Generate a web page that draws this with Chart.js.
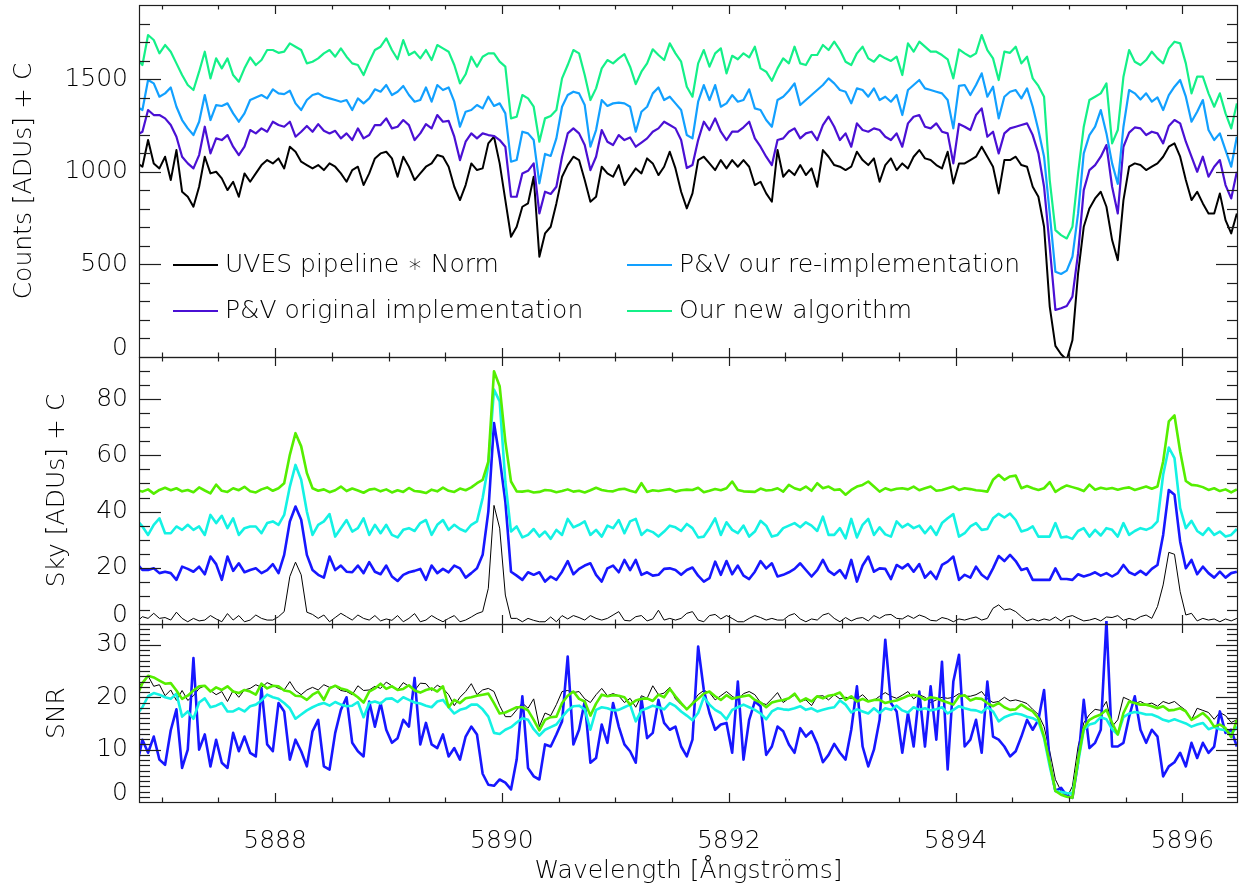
<!DOCTYPE html>
<html><head><meta charset="utf-8">
<script src="https://cdn.jsdelivr.net/npm/chart.js@4.4.1/dist/chart.umd.min.js"></script>
<style>html,body{margin:0;padding:0;background:#fff;overflow:hidden}canvas{display:block}</style>
</head><body>
<canvas id="c" width="1242" height="890"></canvas>
<script>
// wavelength sampling of every series (Angstrom)
const waveStart = 5886.78, waveStep = 0.05;

// ---- Panel 1: Counts [ADUs] + C ----
const countsUVES = [
1050,1027,1171,1045,1018,1081,955,1117,892,865,
811,919,1081,991,1000,964,901,946,865,991,
946,991,1036,1063,1045,1072,1018,1135,1108,1054,
1036,1018,1036,1009,1045,1027,991,946,1009,1027,
928,991,1072,1099,1108,1072,973,1081,1027,955,
991,1027,1045,1090,1081,1027,919,847,928,1045,
1009,1018,1153,1189,1045,847,649,703,811,829,
973,541,667,703,829,973,1036,1081,1063,955,
838,865,1027,991,973,1036,928,973,1018,991,
1072,1045,982,1027,1108,1018,892,802,883,1063,
1081,1045,1009,1063,1018,1063,1027,1063,1027,928,
946,883,838,1117,973,1009,982,1036,982,1018,
919,1117,1081,1036,1027,1009,1027,1108,1063,1036,
1072,946,1036,1072,1009,1045,1018,1081,1117,1072,
1063,1036,1018,1108,937,1045,1045,1063,1081,1135,
1081,1027,883,1063,1063,1081,1036,1027,919,865,
703,272,60,15,-15,90,451,703,802,856,
892,811,631,523,847,1027,1045,1036,1009,1027,
1045,1081,1135,1153,1081,955,847,892,829,775,
775,883,739,667,775];
const countsPVorig = [
1198,1216,1333,1306,1306,1288,1252,1189,1081,1045,
1018,1090,1243,1099,1180,1171,1198,1135,1090,1135,
1225,1207,1234,1216,1270,1252,1243,1270,1189,1216,
1247,1216,1257,1221,1207,1221,1180,1207,1171,1234,
1180,1198,1252,1252,1288,1234,1243,1279,1252,1171,
1207,1257,1234,1306,1270,1275,1189,1063,1162,1207,
1180,1207,1198,1193,1171,1135,865,865,991,1005,
1045,775,892,880,919,1081,1207,1234,1207,1144,
1009,1081,1225,1162,1144,1198,1171,1185,1135,1157,
1180,1216,1234,1270,1252,1234,1171,1020,1036,1171,
1270,1225,1288,1216,1171,1216,1216,1240,1270,1180,
1135,1081,1036,1171,1180,1216,1234,1180,1207,1216,
1171,1252,1297,1243,1171,1207,1135,1261,1225,1216,
1234,1225,1189,1171,1207,1135,1261,1297,1306,1243,
1234,1261,1216,1207,1045,1258,1243,1225,1306,1342,
1189,1216,1099,1207,1234,1243,1252,1261,1198,1099,
919,595,254,263,275,326,559,901,1009,1036,
1081,1144,919,775,1135,1211,1239,1234,1198,1216,
1207,1153,1247,1279,1261,1162,1081,1000,1081,973,
1027,1063,928,856,1000];
const countsPVre = [
1351,1333,1495,1477,1405,1423,1455,1351,1279,1234,
1198,1270,1414,1279,1360,1355,1369,1315,1270,1315,
1387,1401,1414,1396,1445,1423,1419,1437,1369,1333,
1387,1414,1423,1405,1396,1387,1378,1387,1333,1396,
1369,1396,1445,1432,1468,1414,1432,1463,1414,1378,
1387,1455,1378,1468,1441,1455,1378,1243,1324,1333,
1360,1342,1405,1355,1369,1315,1054,1063,1216,1207,
1171,937,1096,1085,1180,1351,1414,1432,1423,1360,
1135,1225,1387,1355,1369,1373,1369,1351,1216,1324,
1351,1423,1455,1387,1405,1369,1333,1198,1180,1378,
1468,1387,1468,1351,1369,1414,1378,1387,1445,1342,
1333,1279,1243,1387,1405,1437,1477,1360,1387,1414,
1441,1468,1504,1477,1441,1432,1369,1450,1441,1405,
1450,1387,1405,1378,1414,1306,1441,1468,1495,1450,
1441,1432,1423,1387,1234,1463,1468,1414,1468,1531,
1405,1459,1288,1405,1432,1441,1396,1450,1351,1225,
1081,775,460,448,466,541,775,1099,1198,1243,
1333,1207,1045,934,1243,1441,1423,1390,1423,1378,
1401,1333,1414,1459,1495,1405,1270,1324,1387,1225,
1171,1207,1117,1027,1189];
const countsNew = [
1612,1576,1738,1711,1639,1684,1648,1585,1522,1468,
1441,1540,1648,1504,1612,1558,1612,1522,1486,1558,
1617,1576,1603,1657,1657,1642,1648,1693,1675,1657,
1585,1594,1612,1639,1657,1621,1666,1621,1585,1576,
1522,1594,1657,1675,1720,1657,1607,1711,1630,1648,
1612,1657,1603,1684,1666,1648,1576,1477,1526,1621,
1567,1621,1639,1639,1594,1567,1288,1297,1414,1396,
1351,1162,1288,1301,1333,1504,1576,1657,1639,1522,
1387,1450,1558,1603,1585,1612,1635,1567,1473,1540,
1585,1661,1630,1603,1693,1639,1594,1459,1405,1585,
1657,1567,1639,1666,1531,1626,1607,1639,1617,1675,
1558,1540,1491,1558,1612,1585,1675,1585,1576,1630,
1630,1684,1657,1702,1657,1594,1576,1639,1675,1612,
1594,1630,1612,1598,1621,1522,1693,1648,1702,1675,
1648,1648,1630,1607,1504,1660,1639,1621,1639,1738,
1657,1612,1495,1648,1642,1675,1585,1621,1504,1463,
1405,955,685,658,640,703,991,1243,1387,1405,
1423,1477,1153,1225,1513,1657,1594,1576,1603,1648,
1612,1585,1666,1702,1693,1585,1423,1513,1513,1423,
1351,1423,1315,1234,1369];

// ---- Panel 2: Sky [ADUs] + C ----
const skyUVES = [
0.8,2.6,2.0,3.8,2.0,2.3,1.4,4.2,2.0,0.8,
2.0,1.1,1.4,3.0,1.8,0.8,3.7,1.4,3.0,0.8,
1.4,3.2,2.0,1.4,1.4,2.6,4.4,16.9,22.0,17.5,
4.2,3.4,2.0,3.2,0.8,2.3,3.8,2.6,1.4,3.2,
2.0,1.4,3.0,1.1,1.8,1.3,3.0,0.8,2.0,3.7,
0.8,1.4,3.0,1.8,0.8,2.0,3.0,0.8,1.4,2.5,
3.7,4.4,12.7,42.2,34.1,10.3,2.0,2.0,0.8,2.0,
1.3,0.8,0.8,2.5,0.8,3.0,1.8,3.0,2.3,1.4,
3.0,2.0,1.4,2.0,3.2,4.4,1.3,1.1,2.6,3.0,
1.1,1.8,4.9,1.4,2.0,1.4,2.0,3.8,4.4,1.4,
0.8,3.0,3.4,1.8,3.0,2.0,0.8,0.8,2.0,3.0,
2.3,1.4,2.0,1.4,1.4,3.0,3.7,1.8,0.8,1.8,
1.4,3.2,3.8,2.0,0.8,2.3,1.1,2.0,2.3,1.1,
3.0,2.0,3.2,3.4,2.0,1.8,3.0,2.0,3.2,2.5,
1.3,1.1,2.3,1.8,0.8,1.8,1.4,2.0,2.5,1.4,
2.0,5.6,6.8,5.0,5.4,4.4,2.6,1.1,1.8,1.1,
1.8,1.3,2.5,1.1,2.5,3.0,2.0,1.1,1.4,2.0,
1.1,2.5,2.3,3.0,1.3,2.0,1.4,2.6,3.2,2.0,
6.2,13.9,25.5,24.8,11.5,3.2,3.8,1.1,2.0,1.4,
1.8,0.8,1.8,1.1,2.0];
const skyPVorig = [
21.6,19.2,19.2,19.8,18.1,18.6,18.1,15.7,20.4,19.6,
18.6,20.4,17.7,24.0,21.3,15.7,24.0,18.9,21.6,18.4,
19.2,19.8,18.1,19.2,21.3,18.1,24.6,36.5,41.8,37.1,
24.6,19.2,17.5,16.5,24.0,19.2,20.8,18.6,18.4,20.8,
18.1,22.0,18.6,17.7,20.8,16.9,15.3,17.5,18.4,18.9,
19.6,15.7,20.8,18.1,19.6,18.4,20.8,19.8,16.5,18.1,
19.8,24.6,40.0,71.5,59.0,43.6,18.6,17.2,15.7,18.4,
17.5,18.4,15.1,16.9,15.7,18.6,22.4,17.7,19.6,20.8,
21.6,17.5,15.1,19.8,20.8,18.4,22.8,19.2,22.8,17.5,
18.4,17.2,17.5,19.6,19.8,19.2,17.5,19.2,20.1,17.2,
15.1,16.3,22.2,17.5,22.4,17.7,20.8,17.2,16.0,18.6,
22.4,19.8,21.6,16.9,17.5,18.4,19.6,21.6,19.2,16.9,
19.2,22.8,18.9,17.5,19.2,16.3,22.8,15.1,20.8,24.0,
18.6,19.8,19.6,16.0,21.0,19.8,21.3,18.6,21.3,16.5,
18.6,16.0,21.0,22.2,24.0,15.7,17.5,16.5,20.4,17.5,
16.0,19.8,24.2,22.4,24.6,22.4,19.2,19.8,15.7,15.7,
15.7,15.7,19.8,16.0,16.0,15.7,17.7,16.9,17.5,18.4,
17.2,18.1,16.9,18.1,21.0,18.4,17.5,18.9,17.5,19.6,
21.0,31.7,47.7,46.0,29.3,19.8,22.8,17.7,20.4,18.1,
16.5,18.6,16.5,18.1,18.6];
const skyPVre = [
37.0,34.7,31.7,35.3,37.6,32.3,32.3,34.7,33.5,35.3,
33.5,34.7,31.7,38.8,35.9,38.5,34.1,37.6,31.7,34.1,
34.7,34.7,32.3,35.9,36.5,35.3,38.8,48.9,56.6,51.3,
40.0,31.7,35.3,36.5,39.1,31.1,34.1,37.0,32.9,34.1,
37.6,31.7,35.3,32.3,35.3,31.7,30.8,33.5,34.1,33.1,
35.9,37.0,31.7,35.3,37.0,33.5,35.3,33.8,32.9,35.3,
36.5,44.8,56.6,83.4,79.2,50.7,32.9,34.7,30.8,31.7,
33.8,31.1,32.9,30.3,33.5,31.7,37.4,34.4,35.3,36.5,
31.7,33.5,31.1,35.0,34.1,37.0,32.3,36.5,37.4,31.7,
33.5,32.7,31.1,32.9,35.0,34.4,33.1,35.6,34.1,30.8,
31.1,34.1,37.6,31.7,36.2,33.5,32.3,35.0,31.1,32.9,
36.7,35.0,31.1,31.7,34.1,35.0,35.9,34.4,36.2,35.0,
33.1,38.2,31.7,31.7,34.1,30.5,37.4,30.8,35.3,37.4,
31.7,34.4,31.9,31.1,36.5,34.4,35.6,34.1,35.0,32.3,
34.7,31.7,35.9,37.6,39.1,31.1,32.3,34.7,35.9,33.5,
33.8,37.6,39.2,37.9,39.3,37.0,32.9,33.5,34.7,31.1,
31.1,31.1,35.9,30.8,31.1,30.3,33.1,34.1,31.1,33.5,
31.5,34.1,33.5,31.1,35.9,31.7,33.1,34.1,33.5,34.4,
36.5,53.1,62.8,59.0,41.2,34.1,36.7,33.1,31.7,34.1,
31.7,32.9,31.1,31.7,33.8];
const skyNew = [
47.7,47.1,47.9,46.4,47.7,48.5,47.6,48.3,47.2,47.7,
46.9,48.6,47.5,46.5,49.6,47.4,47.0,48.3,47.6,48.8,
47.2,46.8,47.9,48.6,47.4,48.3,50.1,60.2,67.9,63.2,
53.7,48.3,47.4,47.9,46.9,47.6,48.9,47.3,48.2,47.5,
46.7,47.8,48.1,47.2,47.9,46.8,47.6,47.0,48.4,47.3,
47.1,46.6,47.8,47.2,48.5,47.4,47.0,48.2,47.6,48.6,
50.1,51.3,57.8,89.9,84.6,65.0,50.7,47.2,47.1,47.4,
46.8,47.0,47.7,47.5,46.9,47.3,47.9,47.1,47.4,46.8,
47.6,48.5,47.7,47.3,47.2,47.9,48.1,47.4,46.9,50.1,
47.0,47.6,47.3,47.7,48.0,47.1,47.6,47.8,47.7,48.5,
46.9,47.4,48.0,47.6,48.3,50.7,47.7,47.2,47.1,47.0,
48.2,47.5,47.7,48.3,47.1,49.5,48.3,47.7,48.9,47.4,
50.1,48.3,48.9,47.7,47.9,46.0,47.7,48.9,49.5,50.7,
48.9,47.1,48.3,47.6,48.1,48.3,47.9,48.9,47.6,48.3,
48.9,47.4,47.7,48.3,48.9,47.7,48.3,48.0,47.6,47.4,
47.1,51.3,53.1,51.3,52.5,52.8,48.3,49.1,48.3,47.7,
48.3,50.5,47.0,48.3,49.3,48.7,48.1,47.3,49.6,47.8,
48.5,48.0,48.4,47.8,48.3,48.6,47.7,48.3,48.9,48.1,
48.9,57.8,72.1,74.2,61.4,50.9,49.5,49.3,48.7,47.7,
48.3,47.3,47.9,46.8,47.9];

// ---- Panel 3: SNR ----
const snrUVES = [
21.4,23.0,24.1,22.1,22.4,20.3,21.4,19.4,21.3,19.4,
20.3,21.7,22.2,21.3,20.5,21.1,19.2,21.3,20.0,21.4,
21.7,22.4,21.9,22.8,22.3,21.7,21.4,23.0,21.3,20.5,
21.4,21.9,21.4,22.4,21.9,22.1,21.3,21.1,20.5,22.2,
21.3,21.4,22.1,21.7,22.9,22.2,21.4,22.8,22.1,21.3,
22.7,22.6,21.3,22.3,21.7,20.5,18.4,20.0,21.1,22.6,
20.5,21.4,21.7,21.1,18.4,16.3,16.3,17.6,18.9,17.9,
19.7,14.4,17.0,16.5,18.6,21.1,21.3,20.9,21.1,19.7,
19.0,20.5,21.7,20.3,20.7,20.3,19.0,19.8,18.1,20.3,
19.8,22.2,20.5,20.8,21.9,19.7,18.6,17.7,19.0,20.5,
21.3,20.9,19.5,20.3,21.1,20.2,19.5,20.7,21.1,20.5,
19.0,18.6,19.7,20.9,19.0,19.8,20.4,19.2,19.5,18.4,
20.2,20.3,19.5,20.5,19.7,20.0,19.8,19.7,20.5,19.4,
19.4,20.2,20.9,20.2,19.8,20.4,21.1,19.7,20.5,20.0,
19.0,19.5,20.0,19.8,20.0,20.7,20.2,20.2,20.5,21.1,
19.7,19.0,19.2,20.0,19.3,19.5,19.2,18.8,17.7,16.7,
14.4,9.7,4.3,2.1,0.8,3.0,10.6,15.1,16.7,17.7,
17.5,19.2,14.4,15.7,20.0,19.5,18.8,19.2,18.6,18.9,
18.3,19.2,18.8,19.2,18.3,17.5,15.7,17.9,17.5,17.1,
15.8,17.1,16.5,15.2,15.7];
const snrPVorig = [
6.8,11.9,9.4,12.5,8.1,7.1,13.7,17.7,6.5,10.0,
27.5,10.0,12.9,6.8,11.9,7.5,6.5,13.2,9.7,12.5,
9.4,8.7,21.7,11.0,9.7,18.9,17.3,8.1,11.9,9.7,
6.8,13.5,15.7,6.8,6.2,13.2,17.6,20.0,11.3,9.7,
8.7,19.2,14.4,18.9,13.8,11.3,12.2,15.7,14.4,23.7,
11.0,15.1,11.0,10.3,12.9,8.7,10.3,8.1,12.5,14.4,
12.9,5.4,3.3,3.1,4.3,3.7,2.4,8.1,20.2,6.5,
4.9,4.3,11.0,10.6,12.9,15.4,27.8,11.0,13.8,19.2,
7.5,8.4,14.8,11.3,18.9,14.4,11.0,9.7,7.5,19.8,
12.2,13.2,19.5,15.1,13.8,14.4,10.6,8.7,11.9,29.7,
21.4,17.0,13.8,14.8,15.1,9.4,23.0,8.1,15.7,19.2,
18.3,9.0,10.6,14.4,13.5,11.0,9.4,14.1,12.5,13.5,
11.1,7.6,9.0,11.1,9.4,8.1,13.8,22.1,10.6,6.8,
10.0,15.7,31.0,18.9,17.3,9.4,17.0,10.6,21.1,10.6,
22.1,11.9,26.8,6.2,23.0,28.1,10.6,11.9,15.7,9.4,
23.0,12.5,11.9,10.6,8.7,9.7,12.5,15.7,13.8,15.7,
21.4,7.5,2.1,2.7,1.2,0.8,7.5,19.5,10.3,11.3,
13.8,34.6,10.6,10.6,11.3,16.3,20.2,13.8,11.3,13.8,
12.5,4.9,6.8,7.6,9.4,6.8,11.3,8.4,11.3,9.4,
10.6,17.3,13.2,13.8,10.6];
const snrPVre = [
16.7,18.1,20.2,20.8,20.5,20.0,19.7,20.7,16.3,17.3,
15.9,19.0,19.8,18.1,18.4,18.9,17.3,17.3,17.9,17.3,
18.3,18.6,19.4,20.5,20.0,19.7,18.9,17.9,15.9,16.7,
17.5,18.1,18.6,18.9,18.4,19.1,18.6,18.3,18.4,19.1,
16.2,18.9,19.2,18.8,19.7,19.8,19.1,20.0,19.5,19.0,
18.8,18.4,18.1,19.2,19.5,18.1,16.9,17.6,17.9,18.6,
18.6,17.7,16.3,13.2,13.0,13.8,14.3,15.2,16.0,15.7,
13.9,12.7,13.8,14.3,14.8,16.2,17.5,18.3,18.4,17.7,
13.8,17.6,18.1,17.9,17.5,17.6,18.1,18.6,15.4,17.5,
17.9,18.4,18.1,17.7,18.9,18.3,17.3,16.5,15.6,17.0,
20.0,18.6,17.6,17.0,15.8,17.6,18.1,18.6,18.1,17.6,
16.9,15.8,17.3,17.9,17.7,17.6,17.9,18.3,17.6,17.9,
17.3,17.6,17.9,18.1,19.4,18.6,17.1,17.7,17.3,16.9,
17.9,17.0,17.9,17.6,18.4,17.5,17.1,18.1,17.6,17.9,
17.5,17.7,18.1,16.9,17.6,18.3,17.9,17.6,17.5,17.1,
18.1,17.3,15.4,16.2,16.6,16.9,16.7,16.3,16.0,15.4,
12.2,6.8,2.1,1.9,1.7,1.6,7.5,13.8,14.8,15.1,
16.2,15.8,13.9,12.9,16.2,16.9,17.2,17.0,16.7,16.7,
16.3,15.7,15.4,15.8,15.4,15.0,14.4,14.8,15.1,13.9,
14.3,13.9,13.7,12.9,14.4];
const snrNew = [
20.2,22.7,24.1,23.8,23.2,22.6,22.7,21.3,19.7,20.3,
21.3,22.1,22.2,21.1,21.9,21.4,22.1,21.1,20.8,21.4,
21.1,20.5,22.6,21.7,22.2,22.1,21.3,21.1,20.3,20.2,
19.5,20.5,21.1,19.5,21.7,22.2,21.7,21.4,20.8,20.0,
19.0,21.1,21.7,22.6,21.6,22.1,21.4,21.6,22.3,21.3,
20.9,21.4,21.7,21.1,22.1,18.1,19.5,18.9,19.8,20.0,
20.3,20.5,20.7,18.9,16.9,17.1,17.6,18.1,18.1,17.5,
15.7,13.7,15.7,16.2,16.3,18.9,20.3,21.1,19.7,19.2,
16.5,18.8,20.5,20.2,20.4,20.3,20.0,18.6,19.4,19.7,
19.8,19.3,20.5,20.0,21.6,20.2,18.9,17.7,18.8,19.7,
20.7,21.1,20.2,19.5,20.4,19.7,20.0,20.2,20.4,19.5,
19.0,18.1,19.0,19.3,19.5,19.8,20.7,19.2,19.8,19.2,
20.2,19.8,20.3,20.5,20.9,19.5,20.2,19.2,19.7,19.2,
19.5,19.5,18.9,19.2,19.4,19.8,20.3,20.5,20.2,19.5,
20.0,19.8,19.4,19.0,18.6,20.2,20.4,19.4,19.8,19.7,
18.9,18.3,18.9,18.1,17.6,17.7,18.6,17.9,17.3,16.0,
12.5,7.5,2.1,1.4,1.0,0.8,8.1,14.1,15.7,16.3,
16.7,17.6,15.1,12.9,17.0,19.2,18.9,18.6,18.6,18.3,
17.9,18.3,17.5,17.6,17.9,17.3,15.7,16.3,17.0,16.0,
14.4,14.8,14.1,12.4,15.7];

// ---- axis ticks ----
const waveTicks = [5888, 5890, 5892, 5894, 5896];
const countsTicks = [0, 500, 1000, 1500];
const skyTicks = [0, 20, 40, 60, 80];
const snrTicks = [0, 10, 20, 30];

const legendNames = ['UVES pipeline \u2217 Norm', 'P&V original implementation', 'P&V our re-implementation', 'Our new algorithm'];

const FONT = '200 25px "DejaVu Sans", "Liberation Sans", sans-serif';
const C = {black:'#000000', purple:'#4a10d4', lblue:'#12a0ff', sgreen:'#14f088',
           blue:'#1717ff', cyan:'#14f2e4', lime:'#55ee00'};

function pts(arr) { return arr.map((v, i) => ({x: +(waveStart + waveStep * i).toFixed(3), y: v})); }

// clip is relative to each dataset's own panel (its y-scale box)
const clip1 = {left: 0, right: 0, top: 0, bottom: 0};
const clip2 = {left: 0, right: 0, top: 0, bottom: 0};
const clip3 = {left: 0, right: 0, top: 3, bottom: 0};

function ds(label, data, axis, color, width, order, clip) {
  return {label, data: pts(data), yAxisID: axis, borderColor: color, backgroundColor: color,
          borderWidth: width, pointRadius: 0, fill: false, tension: 0, order, clip};
}

const datasets = [
  ds(legendNames[0], countsUVES, 'yCounts', C.black, 2, 4, clip1),
  ds(legendNames[1], countsPVorig, 'yCounts', C.purple, 2.2, 3, clip1),
  ds(legendNames[2], countsPVre, 'yCounts', C.lblue, 2.2, 2, clip1),
  ds(legendNames[3], countsNew, 'yCounts', C.sgreen, 2.2, 1, clip1),
  ds('Sky: UVES pipeline', skyUVES, 'ySky', C.black, 1, 4, clip2),
  ds('Sky: P&V original', skyPVorig, 'ySky', C.blue, 2.6, 3, clip2),
  ds('Sky: P&V re-implementation', skyPVre, 'ySky', C.cyan, 2.6, 2, clip2),
  ds('Sky: new algorithm', skyNew, 'ySky', C.lime, 2.6, 1, clip2),
  ds('SNR: UVES pipeline', snrUVES, 'ySnr', C.black, 1, 4, clip3),
  ds('SNR: P&V original', snrPVorig, 'ySnr', C.blue, 2.6, 3, clip3),
  ds('SNR: P&V re-implementation', snrPVre, 'ySnr', C.cyan, 2.6, 2, clip3),
  ds('SNR: new algorithm', snrNew, 'ySnr', C.lime, 2.6, 1, clip3)
];

function yScale(min, max, ticks, weight, stackWeight) {
  return {
    type: 'linear', position: 'left', stack: 'panels', stackWeight, weight,
    min, max, offset: false,
    grid: {display: false, drawTicks: false}, border: {display: false},
    ticks: {display: false},
    afterBuildTicks: s => { s.ticks = ticks.map(v => ({value: v})); },
    afterFit: s => { s.width = 0; }
  };
}

const idlFrame = {
  id: 'idlFrame',
  afterDraw(chart) {
    const ctx = chart.ctx, xs = chart.scales.x;
    const L = chart.chartArea.left, R = chart.chartArea.right;
    const panels = [
      {s: chart.scales.yCounts, minor: 100, title: 'Counts [ADUs] + C', tx: 24},
      {s: chart.scales.ySky, minor: 5, title: 'Sky [ADUs] + C', tx: 57},
      {s: chart.scales.ySnr, minor: 1, title: 'SNR', tx: 57}
    ];
    const seg = (x1, y1, x2, y2) => { ctx.beginPath(); ctx.moveTo(x1, y1); ctx.lineTo(x2, y2); ctx.stroke(); };
    ctx.save();
    ctx.strokeStyle = '#1e1e1e';
    ctx.lineWidth = 1.2;
    ctx.fillStyle = '#000';
    ctx.font = FONT;
    for (const p of panels) {
      const s = p.s, T = s.top, B = s.bottom;
      ctx.strokeStyle = '#1e1e1e'; ctx.lineWidth = 1.2;
      ctx.strokeRect(L + 0.5, T + 0.5, R - L - 1, B - T);
      const majors = s.ticks.map(t => t.value);
      for (let k = 1; k * p.minor < s.max; k++) {
        const v = k * p.minor;
        const y = Math.round(s.getPixelForValue(v)) + 0.5;
        const len = majors.includes(v) ? 22 : 11;
        seg(L, y, L + len, y); seg(R, y, R - len, y);
      }
      for (let k = 0; ; k++) {
        const w = 5887 + 0.5 * k;
        if (w > xs.max) break;
        const x = Math.round(xs.getPixelForValue(w)) + 0.5;
        const len = waveTicks.includes(w) ? 9 : 4.5;
        seg(x, B, x, B - len); seg(x, T, x, T + len);
      }
      // y tick labels (bottom label raised, as in the original)
      ctx.textAlign = 'right'; ctx.textBaseline = 'middle';
      for (const t of s.ticks) {
        let y = s.getPixelForValue(t.value);
        if (t.value === s.min) y -= 9;
        ctx.fillText(String(t.value), 128, y);
      }
      // rotated axis title
      ctx.save();
      ctx.translate(p.tx, (T + B) / 2);
      ctx.rotate(-Math.PI / 2);
      ctx.textAlign = 'center'; ctx.textBaseline = 'middle';
      ctx.fillText(p.title, 0, 0);
      ctx.restore();
    }
    // x tick labels + title
    ctx.textAlign = 'center'; ctx.textBaseline = 'middle';
    for (const t of xs.ticks) ctx.fillText(String(t.value), xs.getPixelForValue(t.value), 841);
    ctx.fillText('Wavelength [\u00c5ngstr\u00f6ms]', (L + R) / 2, 871);
    // legend (panel 1)
    const items = [
      {d: chart.data.datasets[0], x: 173, y: 265},
      {d: chart.data.datasets[1], x: 173, y: 311},
      {d: chart.data.datasets[2], x: 627, y: 265},
      {d: chart.data.datasets[3], x: 627, y: 311}
    ];
    ctx.textAlign = 'left';
    for (const it of items) {
      ctx.strokeStyle = it.d.borderColor; ctx.lineWidth = 2.2;
      seg(it.x, it.y, it.x + 45, it.y);
      ctx.fillText(it.d.label, it.x + 52, it.y);
    }
    ctx.restore();
  }
};

new Chart(document.getElementById('c'), {
  type: 'line',
  data: {datasets},
  options: {
    responsive: false, animation: false, devicePixelRatio: 1,
    normalized: true,
    layout: {padding: {left: 139, right: 4, top: 5, bottom: 0}},
    plugins: {legend: {display: false}, tooltip: {enabled: false}},
    elements: {point: {radius: 0}, line: {tension: 0, borderJoinStyle: 'round'}},
    scales: {
      x: {
        type: 'linear', position: 'bottom', min: 5886.8, max: 5896.49,
        grid: {display: false, drawTicks: false}, border: {display: false},
        ticks: {display: false},
        afterBuildTicks: s => { s.ticks = waveTicks.map(v => ({value: v})); },
        afterFit: s => { s.height = 88; }
      },
      yCounts: yScale(0, 1900, countsTicks, 3, 352),
      ySky: yScale(0, 95, skyTicks, 2, 267),
      ySnr: yScale(0, 34, snrTicks, 1, 178)
    }
  },
  plugins: [idlFrame]
});
</script>
</body></html>
